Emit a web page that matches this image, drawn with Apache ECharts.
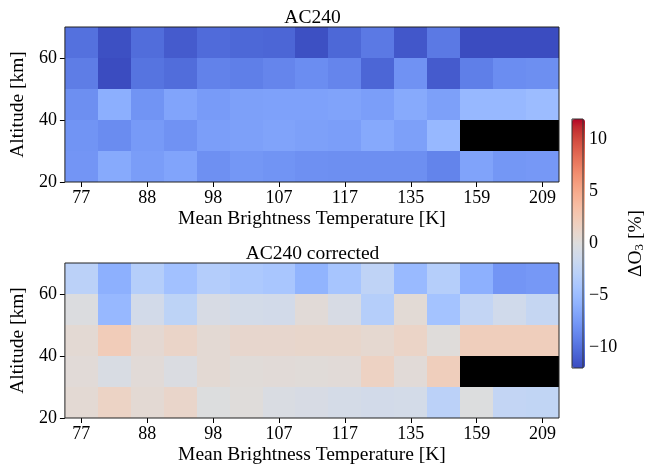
<!DOCTYPE html>
<html>
<head>
<meta charset="utf-8">
<script src="https://cdn.jsdelivr.net/npm/echarts@6/dist/echarts.min.js"></script>
<style>
  html, body { margin: 0; padding: 0; background: #ffffff; }
  #chart { width: 647px; height: 468px; }
</style>
</head>
<body>
<div id="chart"></div>
<script>
// Brightness-temperature bins (x) and 10 km altitude bins (y, lower edges)
const temperatureBins = ['77', '82', '88', '93', '98', '102', '107', '112', '117', '126', '135', '147', '159', '184', '209'];
const altitudeBins = [20, 30, 40, 50, 60];
const altitudeTicks = [20, 40, 60];
const colorbarTicks = [-10, -5, 0, 5, 10];

// Ozone deviation [%] per cell, rows ordered from 20-30 km up to 60-70 km; null = no data
const ac240 = [
  [-7.8, -6.4, -7.3, -6.8, -8.1, -7.7, -7.9, -8.1, -8.2, -8.2, -8.2, -8.9, -6.9, -7.7, -7.6],
  [-7.9, -8.4, -7.5, -8.0, -7.2, -7.1, -6.9, -7.1, -7.2, -6.5, -7.1, -5.3, null, null, null],
  [-8.2, -6.1, -7.9, -6.8, -7.4, -7.1, -7.0, -7.0, -6.9, -7.2, -6.4, -7.1, -5.3, -5.3, -5.0],
  [-9.3, -12.0, -9.8, -10.2, -9.0, -9.2, -8.8, -8.3, -8.8, -10.6, -8.0, -11.2, -9.2, -8.3, -8.2],
  [-10.0, -11.8, -10.2, -11.2, -10.3, -10.5, -10.6, -11.8, -10.5, -9.5, -11.4, -9.5, -12.0, -12.0, -12.0]
];
const ac240Corrected = [
  [0.6, 1.5, 0.6, 1.2, -0.1, 0.2, -0.4, -0.6, -0.8, -1.0, -0.9, -2.8, -0.1, -2.2, -2.3],
  [0.4, -0.5, 0.4, -0.3, 0.6, 0.3, 0.4, 0.3, 0.4, 1.6, 0.4, 2.0, null, null, null],
  [0.6, 2.2, 0.7, 1.3, 0.6, 1.0, 1.0, 1.1, 1.1, 0.8, 1.4, 0.2, 2.0, 2.0, 2.0],
  [-0.2, -5.3, -1.0, -2.6, -0.6, -0.9, -1.0, 0.4, -0.6, -3.2, 0.5, -4.4, -2.2, -1.2, -2.0],
  [-2.8, -6.0, -3.2, -4.6, -3.3, -3.8, -4.1, -5.7, -4.2, -2.5, -5.2, -3.2, -6.0, -7.8, -7.6]
];

// Diverging cool-warm colour ramp, evenly spaced from -12 % to +12 %
const coolwarm = [
  '#3b4cc0', '#445acc', '#4d68d7', '#5775e1', '#6282ea', '#6c8ef1', '#779af7', '#82a5fb',
  '#8db0fe', '#98b9ff', '#a3c2ff', '#aec9fd', '#b8d0f9', '#c2d5f4', '#ccd9ee', '#d5dbe6',
  '#dddddd', '#e5d8d1', '#ecd3c5', '#f1ccb8', '#f5c4ad', '#f7bba0', '#f7b194', '#f6a687',
  '#f49a7b', '#f18d6f', '#ec7f63', '#e57058', '#de604d', '#d55042', '#cb3e38', '#c0282f',
  '#b40426'
];

const FONT = "'Liberation Serif', 'DejaVu Serif', serif";
const LABEL_SIZE = 19.5;
const TICK_SIZE = 18;
const minus = v => (v < 0 ? '\u2212' + Math.abs(v) : String(v));

function cells(rows) {
  const out = [];
  rows.forEach((row, r) => {
    row.forEach((v, c) => {
      out.push([c, altitudeBins[r], v === null ? NaN : v]);
    });
  });
  return out;
}

// One filled cell per bin; edges snapped to whole pixels so neighbours meet without seams
function renderCell(params, api) {
  const c = api.value(0);
  const lo = api.value(1);
  const v = api.value(2);
  const p0 = api.coord([c, lo]);
  const p1 = api.coord([c, lo + 10]);
  const w = api.size([1, 0])[0];
  const x0 = Math.round(p0[0] - w / 2);
  const x1 = Math.round(p0[0] + w / 2);
  const y0 = Math.round(p1[1]);
  const y1 = Math.round(p0[1]);
  const fill = isNaN(v) ? '#000000' : api.visual('color');
  return {
    type: 'rect',
    shape: { x: x0, y: y0, width: x1 - x0, height: y1 - y0 },
    style: { fill: fill }
  };
}

const plotGrid = top => ({
  left: 56, top: top, width: 503, height: 155,
  show: true, borderColor: '#222', borderWidth: 1, backgroundColor: 'transparent', z: 10
});

const xAxisFor = idx => ({
  type: 'category', gridIndex: idx, data: temperatureBins, boundaryGap: true,
  axisLine: { show: false },
  axisTick: { show: true, interval: 1, alignWithLabel: true, length: 5, lineStyle: { color: '#000' } },
  axisLabel: { interval: 1, margin: 7, fontFamily: FONT, fontSize: TICK_SIZE, color: '#000' },
  name: 'Mean Brightness Temperature [K]', nameLocation: 'middle', nameGap: 27,
  nameTextStyle: { fontFamily: FONT, fontSize: LABEL_SIZE, color: '#000' },
  splitLine: { show: false }
});

const yAxisFor = idx => ({
  type: 'value', gridIndex: idx, min: 20, max: 70,
  axisLine: { show: false },
  axisTick: { show: true, customValues: altitudeTicks, length: 5, lineStyle: { color: '#000' } },
  axisLabel: { customValues: altitudeTicks, margin: 8, fontFamily: FONT, fontSize: TICK_SIZE, color: '#000' },
  name: 'Altitude [km]', nameLocation: 'middle', nameGap: 31, nameRotate: 90,
  nameTextStyle: { fontFamily: FONT, fontSize: LABEL_SIZE, color: '#000' },
  splitLine: { show: false }
});

const chart = echarts.init(document.getElementById('chart'), null, { renderer: 'canvas' });
chart.setOption({
  animation: false,
  backgroundColor: '#ffffff',
  title: [
    { text: 'AC240', left: 307.5, top: 3, textAlign: 'center',
      textStyle: { fontFamily: FONT, fontSize: LABEL_SIZE, fontWeight: 'normal', color: '#000' } },
    { text: 'AC240 corrected', left: 307.5, top: 239, textAlign: 'center',
      textStyle: { fontFamily: FONT, fontSize: LABEL_SIZE, fontWeight: 'normal', color: '#000' } }
  ],
  grid: [
    plotGrid(27),
    plotGrid(263),
    { left: 572, top: 119, width: 13, height: 249, show: true, borderColor: '#333', borderWidth: 1,
      backgroundColor: 'transparent', z: 10 }
  ],
  xAxis: [
    xAxisFor(0),
    xAxisFor(1),
    { type: 'value', gridIndex: 2, show: false, min: 0, max: 1 }
  ],
  yAxis: [
    yAxisFor(0),
    yAxisFor(1),
    {
      type: 'value', gridIndex: 2, position: 'right', min: -12, max: 12,
      axisLine: { show: false },
      axisTick: { show: true, customValues: colorbarTicks, length: 4, lineStyle: { color: '#000' } },
      axisLabel: { customValues: colorbarTicks, margin: 6, formatter: minus,
        fontFamily: FONT, fontSize: TICK_SIZE, color: '#000' },
      splitLine: { show: false },
      name: '{t|\u0394O}{s|3}{t| [%]}', nameLocation: 'middle', nameGap: 42, nameRotate: 90,
      nameTextStyle: {
        fontFamily: FONT, fontSize: LABEL_SIZE, color: '#000',
        rich: {
          t: { fontFamily: FONT, fontSize: LABEL_SIZE, color: '#000' },
          s: { fontFamily: FONT, fontSize: 13, color: '#000', padding: [8, 0, 0, 0] }
        }
      }
    }
  ],
  visualMap: {
    type: 'continuous', min: -12, max: 12, dimension: 2, seriesIndex: [0, 1],
    calculable: false, hoverLink: false, orient: 'vertical',
    left: 572, top: 119, itemWidth: 13, itemHeight: 249, padding: 0,
    inRange: { color: coolwarm }
  },
  series: [
    { type: 'custom', xAxisIndex: 0, yAxisIndex: 0, renderItem: renderCell, data: cells(ac240) },
    { type: 'custom', xAxisIndex: 1, yAxisIndex: 1, renderItem: renderCell, data: cells(ac240Corrected) }
  ]
});
</script>
</body>
</html>
